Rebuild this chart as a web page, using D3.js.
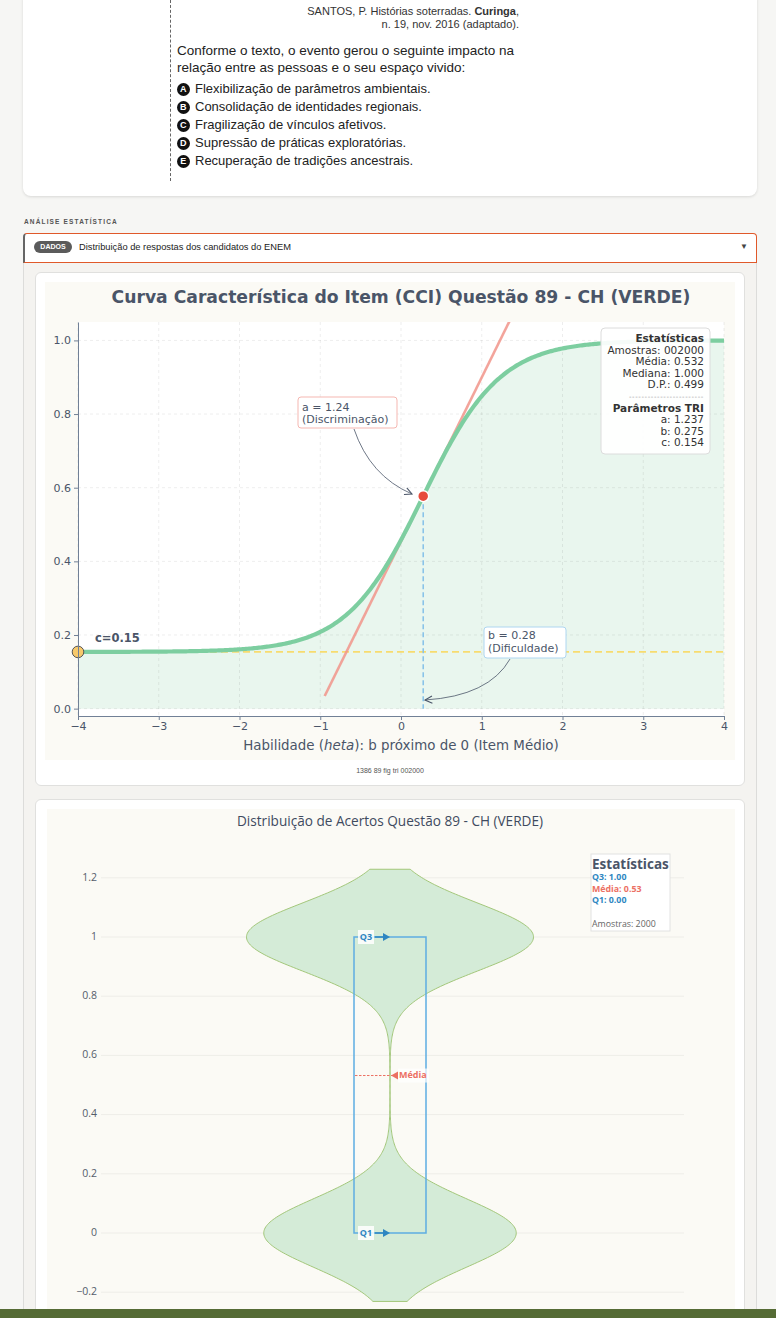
<!DOCTYPE html>
<html>
<head>
<meta charset="utf-8">
<script src="https://cdn.jsdelivr.net/npm/d3@7"></script>
<style>
  body { margin: 0; width: 776px; height: 1318px; overflow: hidden; background: #f6f6f4;
         font-family: "Liberation Sans", Arial, sans-serif; position: relative; }
  .abs { position: absolute; }
  .opt { position: absolute; left: 177px; height: 18px; line-height: 18px; font-size: 13px; color: #222; white-space: nowrap; }
  .opt b { position: absolute; left: 0; top: 3px; width: 12.5px; height: 12.5px; border-radius: 7px; background: #111; color: #fff;
           font-size: 9px; line-height: 12.5px; text-align: center; }
  .opt span { position: absolute; left: 18px; top: 0; }
  .card { position: absolute; left: 35px; width: 708px; background: #fff; border: 1px solid #e0e0de; border-radius: 6px; }
  #chart { position: absolute; left: 0; top: 0; z-index: 5; }
</style>
</head>
<body>
<div class="abs" style="left:23px;top:-10px;width:734px;height:206px;background:#fff;border-radius:8px;box-shadow:0 1px 3px rgba(0,0,0,0.12)"></div>
<div class="abs" style="left:170px;top:0;height:181px;border-left:1px dashed #666"></div>
<div class="abs" style="left:177px;top:5px;width:342px;text-align:right;font-size:11px;line-height:12.5px;color:#333">SANTOS, P. Histórias soterradas. <b>Curinga</b>,<br>n. 19, nov. 2016 (adaptado).</div>
<div class="abs" style="left:177px;top:42px;width:360px;font-size:13.5px;line-height:17px;color:#222">Conforme o texto, o evento gerou o seguinte impacto na<br>relação entre as pessoas e o seu espaço vivido:</div>
<div id="options"></div>

<div class="abs" style="left:24px;top:218px;font-size:6.5px;font-weight:bold;letter-spacing:1.15px;color:#555">ANÁLISE ESTATÍSTICA</div>
<div class="abs" style="left:23px;top:262px;width:732px;height:1100px;background:#f4f3f0;border-left:1px solid #dcdcda;border-right:1px solid #dcdcda"></div>
<div class="abs" style="left:23px;top:233px;width:731px;height:28px;background:#fff;border:1px solid #e0592a;border-left:2px solid #666;border-radius:4px 4px 0 0"></div>
<div class="abs" style="left:34px;top:241px;width:38px;height:12px;border-radius:6px;background:#5b5b5b;color:#fff;font-size:7px;font-weight:bold;line-height:12px;text-align:center">DADOS</div>
<div class="abs" style="left:79px;top:241px;font-size:9.3px;line-height:12px;color:#222">Distribuição de respostas dos candidatos do ENEM</div>
<div class="abs" style="left:740px;top:241px;font-size:8px;line-height:12px;color:#444">▼</div>

<div class="card" style="top:272px;height:512px"></div>
<div class="card" style="top:799px;height:600px"></div>
<div class="abs" style="left:0;top:1309px;width:776px;height:9px;background:#556b35;z-index:10"></div>

<svg id="chart" width="776" height="1318"></svg>

<script>
// ---- question options ----
const optionLetters = ["A", "B", "C", "D", "E"];
const optionTexts = [
  "Flexibilização de parâmetros ambientais.",
  "Consolidação de identidades regionais.",
  "Fragilização de vínculos afetivos.",
  "Supressão de práticas exploratórias.",
  "Recuperação de tradições ancestrais."
];

// ---- chart 1: item characteristic curve ----
const aParam = 1.237;
const bParam = 0.275;
const cParam = 0.154;
const thetaTicks = [-4, -3, -2, -1, 0, 1, 2, 3, 4];
const probTicks = [0, 0.2, 0.4, 0.6, 0.8, 1.0];
const iccStatLines = ["Estatísticas", "Amostras: 002000", "Média: 0.532", "Mediana: 1.000", "D.P.: 0.499",
  "------------------------", "Parâmetros TRI", "a: 1.237", "b: 0.275", "c: 0.154"];
const iccStatBold = [0, 6];

// ---- chart 2: violin of answers ----
const answerValues = [0, 1];
const answerCounts = [936, 1064];
const q1Value = 0;
const q3Value = 1;
const meanValue = 0.532;
const violinTicks = [-0.2, 0, 0.2, 0.4, 0.6, 0.8, 1, 1.2];
const violinStatLines = ["Q3: 1.00", "Média: 0.53", "Q1: 0.00"];

d3.select("#options").selectAll("div").data(optionTexts).join("div")
  .attr("class", "opt")
  .style("top", (d, i) => (80 + i * 18) + "px")
  .html((d, i) => `<b>${optionLetters[i]}</b><span>${d}</span>`);

const svg = d3.select("#chart");
const defs = svg.append("defs");
defs.append("clipPath").attr("id", "plot1clip")
  .append("rect").attr("x", 78).attr("y", 322).attr("width", 646).attr("height", 394);
defs.append("marker").attr("id", "openArrow").attr("viewBox", "0 0 10 10")
  .attr("refX", 9).attr("refY", 5).attr("markerWidth", 9).attr("markerHeight", 9)
  .attr("markerUnits", "userSpaceOnUse").attr("orient", "auto")
  .append("path").attr("d", "M1,1 L9,5 L1,9").attr("fill", "none")
  .attr("stroke", "#4a5568").attr("stroke-width", 1.2);

// ================= chart 1 =================
const g1 = svg.append("g").attr("font-family", "'DejaVu Sans', sans-serif");
g1.append("rect").attr("x", 45).attr("y", 282).attr("width", 690).attr("height", 478).attr("fill", "#fbfaf5");
g1.append("rect").attr("x", 78).attr("y", 322).attr("width", 646).attr("height", 394).attr("fill", "#fff");

const x1 = d3.scaleLinear().domain([-4, 4]).range([78, 724]);
const y1 = d3.scaleLinear().domain([-0.02, 1.05]).range([716, 322]);
const icc = t => cParam + (1 - cParam) / (1 + Math.exp(-1.7 * aParam * (t - bParam)));
const thetaGrid = d3.range(-4, 4.0001, 0.02);

g1.append("path").datum(thetaGrid)
  .attr("d", d3.area().x(t => x1(t)).y0(y1(0)).y1(t => y1(icc(t))))
  .attr("fill", "#e9f6ee");

const grid1 = g1.append("g").attr("stroke", "rgba(0,0,0,0.07)").attr("stroke-dasharray", "3,3");
grid1.selectAll(".vx").data(thetaTicks).join("line")
  .attr("x1", d => x1(d)).attr("x2", d => x1(d)).attr("y1", 322).attr("y2", 716);
grid1.selectAll(".hy").data(probTicks).join("line")
  .attr("x1", 78).attr("x2", 724).attr("y1", d => y1(d)).attr("y2", d => y1(d));

g1.append("line").attr("x1", x1(-4)).attr("x2", x1(4)).attr("y1", y1(cParam)).attr("y2", y1(cParam))
  .attr("stroke", "#f7dc6f").attr("stroke-width", 1.8).attr("stroke-dasharray", "7,4");

g1.append("line").attr("x1", x1(bParam)).attr("x2", x1(bParam)).attr("y1", y1(icc(bParam))).attr("y2", y1(0))
  .attr("stroke", "#85c1e9").attr("stroke-width", 1.5).attr("stroke-dasharray", "5,3");

const slope = 1.7 * aParam * (1 - cParam) / 4;
const pb = icc(bParam);
g1.append("line").attr("clip-path", "url(#plot1clip)")
  .attr("x1", x1(bParam - 1.22)).attr("y1", y1(pb - 1.22 * slope))
  .attr("x2", x1(bParam + 1.3)).attr("y2", y1(pb + 1.3 * slope))
  .attr("stroke", "#f1948a").attr("stroke-opacity", 0.85).attr("stroke-width", 2.6);

g1.append("path").datum(thetaGrid)
  .attr("d", d3.line().x(t => x1(t)).y(t => y1(icc(t))))
  .attr("fill", "none").attr("stroke", "#7dcea0").attr("stroke-width", 4.2);

g1.append("circle").attr("cx", x1(bParam)).attr("cy", y1(pb)).attr("r", 5.5)
  .attr("fill", "#e74c3c").attr("stroke", "#fff").attr("stroke-width", 1.5);
g1.append("circle").attr("cx", x1(-4)).attr("cy", y1(cParam)).attr("r", 5.8)
  .attr("fill", "#f7c96b").attr("stroke", "#555").attr("stroke-width", 1);
g1.append("text").attr("x", 95).attr("y", 638).attr("dominant-baseline", "middle")
  .attr("font-size", 11.5).attr("font-weight", "bold").attr("fill", "#4a5568")
  .text("c=" + cParam.toFixed(2));

// axes
const ax1 = g1.append("g").attr("transform", "translate(78,0)")
  .call(d3.axisLeft(y1).tickValues(probTicks).tickFormat(d3.format(".1f")).tickSize(4).tickPadding(3).tickSizeOuter(0));
const ax2 = g1.append("g").attr("transform", "translate(0,716)")
  .call(d3.axisBottom(x1).tickValues(thetaTicks).tickFormat(d3.format("d")).tickSize(4).tickPadding(2).tickSizeOuter(0));
[ax1, ax2].forEach(a => {
  a.select(".domain").attr("stroke", "#718096");
  a.selectAll(".tick line").attr("stroke", "#718096");
  a.selectAll("text").attr("font-size", 11).attr("fill", "#4a5568").attr("font-family", "'DejaVu Sans', sans-serif");
});

const xlab = g1.append("text").attr("x", 401).attr("y", 750).attr("text-anchor", "middle")
  .attr("font-size", 13.4).attr("fill", "#4a5568");
xlab.append("tspan").text("Habilidade (");
xlab.append("tspan").attr("font-style", "italic").text("heta");
xlab.append("tspan").text("): b próximo de 0 (Item Médio)");

g1.append("text").attr("x", 401).attr("y", 298).attr("text-anchor", "middle").attr("dominant-baseline", "middle")
  .attr("font-size", 17.2).attr("font-weight", "bold").attr("fill", "#4a5568")
  .text("Curva Característica do Item (CCI) Questão 89 - CH (VERDE)");

// annotation a
g1.append("path").attr("d", "M354,429 Q370,476 412,494").attr("fill", "none")
  .attr("stroke", "#4a5568").attr("stroke-width", 0.8).attr("marker-end", "url(#openArrow)");
g1.append("rect").attr("x", 298).attr("y", 397).attr("width", 99).attr("height", 31).attr("rx", 3)
  .attr("fill", "#fff").attr("stroke", "#f5b7b1");
g1.append("text").attr("x", 302).attr("y", 408).attr("dominant-baseline", "middle").attr("font-size", 11)
  .attr("fill", "#4a5568").text("a = " + aParam.toFixed(2));
g1.append("text").attr("x", 302).attr("y", 420).attr("dominant-baseline", "middle").attr("font-size", 11)
  .attr("fill", "#4a5568").text("(Discriminação)");

// annotation b
g1.append("path").attr("d", "M510,659 Q489,696 425,700").attr("fill", "none")
  .attr("stroke", "#4a5568").attr("stroke-width", 0.8).attr("marker-end", "url(#openArrow)");
g1.append("rect").attr("x", 484).attr("y", 627).attr("width", 82).attr("height", 31).attr("rx", 3)
  .attr("fill", "#fff").attr("stroke", "#aed6f1");
g1.append("text").attr("x", 488).attr("y", 636).attr("dominant-baseline", "middle").attr("font-size", 11)
  .attr("fill", "#4a5568").text("b = " + bParam.toFixed(2));
g1.append("text").attr("x", 488).attr("y", 649).attr("dominant-baseline", "middle").attr("font-size", 11)
  .attr("fill", "#4a5568").text("(Dificuldade)");

// stats box
g1.append("rect").attr("x", 601).attr("y", 328).attr("width", 109).attr("height", 126).attr("rx", 4)
  .attr("fill", "#fff").attr("fill-opacity", 0.92).attr("stroke", "#dcdcdc");
g1.selectAll(".st").data(iccStatLines).join("text")
  .attr("x", 704).attr("y", (d, i) => 339 + i * 11.6).attr("text-anchor", "end").attr("dominant-baseline", "middle")
  .attr("fill", (d, i) => i === 5 ? "#999" : "#333")
  .attr("font-weight", (d, i) => iccStatBold.includes(i) ? "bold" : "normal")
  .attr("font-size", (d, i) => i === 5 ? 7 : 10.5)
  .attr("letter-spacing", (d, i) => i === 5 ? 0.6 : 0)
  .text(d => d);

g1.append("text").attr("x", 390).attr("y", 771).attr("text-anchor", "middle").attr("dominant-baseline", "middle")
  .attr("font-family", "'Liberation Sans', Arial, sans-serif").attr("font-size", 7).attr("fill", "#555")
  .text("1386 89 fig tri 002000");

// ================= chart 2 =================
const g2 = svg.append("g").attr("font-family", "'Open Sans', sans-serif");
g2.append("rect").attr("x", 47).attr("y", 809).attr("width", 688).attr("height", 520).attr("fill", "#fbfaf5");
g2.append("text").attr("x", 390).attr("y", 822).attr("text-anchor", "middle").attr("dominant-baseline", "middle")
  .attr("font-size", 13.6).attr("fill", "#3f4b5f").text("Distribuição de Acertos Questão 89 - CH (VERDE)");

const y2 = d3.scaleLinear().domain([0, 1]).range([1233, 937]);
g2.selectAll(".gl").data(violinTicks).join("line")
  .attr("x1", 101).attr("x2", 684).attr("y1", d => y2(d)).attr("y2", d => y2(d))
  .attr("stroke", "#eeede8").attr("stroke-width", 1);
g2.selectAll(".tl").data(violinTicks).join("text")
  .attr("x", 97).attr("y", d => y2(d)).attr("text-anchor", "end").attr("dominant-baseline", "middle")
  .attr("font-size", 10.5).attr("fill", "#555d6b")
  .text(d => d3.format("~g")(d).replace("-", "\u2212"));

// kernel density (Silverman bandwidth) of the answer counts
const n = d3.sum(answerCounts);
const mu = d3.sum(answerValues.map((v, i) => v * answerCounts[i])) / n;
const sd = Math.sqrt(d3.sum(answerValues.map((v, i) => answerCounts[i] * (v - mu) ** 2)) / (n - 1));
const bw = 1.059 * Math.min(sd, (q3Value - q1Value) / 1.349) * Math.pow(n, -0.2);
const kde = v => d3.sum(answerValues.map((a, i) => answerCounts[i] * Math.exp(-0.5 * ((v - a) / bw) ** 2)));
const vGrid = d3.range(-2 * bw, 1 + 2 * bw + 1e-9, 0.004);
const maxDen = d3.max(vGrid, kde);
const wScale = d3.scaleLinear().domain([0, maxDen]).range([0, 143.5]);
const cx = 390;
g2.append("path").datum(vGrid)
  .attr("d", d3.area().y(v => y2(v)).x0(v => cx - wScale(kde(v))).x1(v => cx + wScale(kde(v))))
  .attr("fill", "#d4ebd7").attr("stroke", "#a3c77a").attr("stroke-width", 1);

// quartile box
g2.append("rect").attr("x", 354).attr("y", y2(q3Value)).attr("width", 72).attr("height", y2(q1Value) - y2(q3Value))
  .attr("fill", "none").attr("stroke", "#5dade2").attr("stroke-width", 1.5);

[[q3Value, "Q3"], [q1Value, "Q1"]].forEach(([v, lab]) => {
  const yy = y2(v);
  g2.append("line").attr("x1", 375).attr("x2", 383).attr("y1", yy).attr("y2", yy)
    .attr("stroke", "#2e86c1").attr("stroke-width", 1.5);
  g2.append("path").attr("d", `M383,${yy - 4}L390,${yy}L383,${yy + 4}Z`).attr("fill", "#2e86c1");
  g2.append("rect").attr("x", 358).attr("y", yy - 7).attr("width", 16).attr("height", 14)
    .attr("fill", "#fff").attr("fill-opacity", 0.85);
  g2.append("text").attr("x", 366).attr("y", yy + 0.5).attr("text-anchor", "middle").attr("dominant-baseline", "middle")
    .attr("font-size", 9).attr("font-weight", "bold").attr("fill", "#2e86c1").text(lab);
});

const ym = y2(meanValue);
g2.append("line").attr("x1", 355).attr("x2", 392).attr("y1", ym).attr("y2", ym)
  .attr("stroke", "#ec7063").attr("stroke-width", 1).attr("stroke-dasharray", "2.5,1.5");
g2.append("path").attr("d", `M398,${ym - 4}L391,${ym}L398,${ym + 4}Z`).attr("fill", "#ec7063");
g2.append("rect").attr("x", 398).attr("y", ym - 7).attr("width", 31).attr("height", 14)
  .attr("fill", "#fff").attr("fill-opacity", 0.7);
g2.append("text").attr("x", 399).attr("y", ym + 0.5).attr("dominant-baseline", "middle")
  .attr("font-size", 9).attr("font-weight", "bold").attr("fill", "#ec7063").text("Média");

// stats box
g2.append("rect").attr("x", 591).attr("y", 854).attr("width", 79).attr("height", 77)
  .attr("fill", "#fff").attr("stroke", "#e2e2e2");
g2.append("text").attr("x", 592).attr("y", 865).attr("dominant-baseline", "middle")
  .attr("font-size", 13.5).attr("font-weight", "bold").attr("fill", "#4a5568").text("Estatísticas");
g2.selectAll(".vs").data(violinStatLines).join("text")
  .attr("x", 592).attr("y", (d, i) => 878 + i * 11.5).attr("dominant-baseline", "middle")
  .attr("font-size", 8.8).attr("font-weight", "bold")
  .attr("fill", (d, i) => i === 1 ? "#ec7063" : "#2e86c1").text(d => d);
g2.append("text").attr("x", 592).attr("y", 925).attr("dominant-baseline", "middle")
  .attr("font-size", 8.8).attr("fill", "#666").text("Amostras: " + n);
</script>
</body>
</html>
